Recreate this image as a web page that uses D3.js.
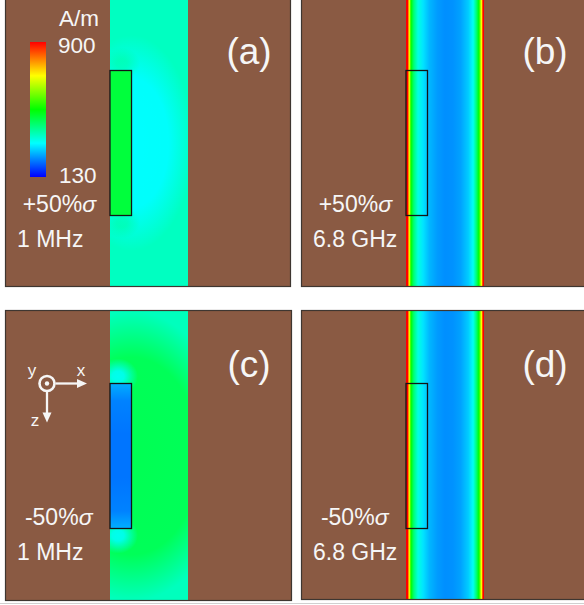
<!DOCTYPE html>
<html>
<head>
<meta charset="utf-8">
<script src="https://cdn.jsdelivr.net/npm/d3@7"></script>
<style>
  body { margin: 0; background: #fff; }
  text { font-family: "Liberation Sans", Arial, sans-serif; fill: #f6f6f6; }
</style>
</head>
<body>
<svg id="chart" width="584" height="605"></svg>
<script>
// colour bar range, A/m
var barMin = 130, barMax = 900;
var jetColors = ["#0000ff", "#00ffff", "#00ff00", "#ffff00", "#ff0000"];

// panel texts
var panelIds = ["a", "b", "c", "d"];
var sigmaLabels = ["+50%", "+50%", "-50%", "-50%"];
var freqLabels = ["1 MHz", "6.8 GHz", "1 MHz", "6.8 GHz"];

// 6.8 GHz: |H| across the strip (fraction of strip width -> A/m), b and d look the same
var ghzPos = [0, 0.02, 0.042, 0.064, 0.1, 0.154, 0.22, 0.3, 0.4, 0.5, 0.6, 0.7, 0.8, 0.86, 0.9, 0.935, 0.968, 0.987, 1];
var ghzH   = [900, 900, 707, 515, 425, 345, 302, 268, 248, 238, 240, 252, 285, 330, 420, 515, 707, 900, 900];

// 1 MHz: strip, inclusion, beside inclusion, inclusion corners (A/m)
var mhzPlus  = [369, 470, 322, 410];
var mhzMinus = [372, 221, 452, 322];

// 1 MHz -50%: |H| along the inclusion (fraction of its length -> A/m)
var incPos = [0, 0.12, 0.35, 0.65, 0.88, 1];
var incMinusH = [262, 228, 218, 218, 228, 262];

var svg = d3.select("#chart");
var defs = svg.append("defs");

var color = d3.scaleLinear()
  .domain(jetColors.map(function(c, i) { return barMin + i * (barMax - barMin) / (jetColors.length - 1); }))
  .range(jetColors)
  .clamp(true);

var cells = [
  {x: 5, y: -3, w: 286, h: 290},
  {x: 301, y: -3, w: 290, h: 290},
  {x: 5, y: 310, w: 287, h: 291},
  {x: 301, y: 310, w: 290, h: 290}
];
var stripX = 105, stripW = 78, incY = 73.5, incW = 21.5, incH = 145;

function gradient(id, vertical, pos, vals) {
  var g = defs.append("linearGradient").attr("id", id)
    .attr("x1", 0).attr("y1", 0).attr("x2", vertical ? 0 : 1).attr("y2", vertical ? 1 : 0);
  g.selectAll("stop").data(pos).enter().append("stop")
    .attr("offset", function(d) { return d; })
    .attr("stop-color", function(d, i) { return color(vals[i]); });
  return "url(#" + id + ")";
}

function glow(id, val, flat, peak) {
  var g = defs.append("radialGradient").attr("id", id);
  g.append("stop").attr("offset", 0).attr("stop-color", color(val)).attr("stop-opacity", peak);
  g.append("stop").attr("offset", flat).attr("stop-color", color(val)).attr("stop-opacity", peak * 0.95);
  g.append("stop").attr("offset", 1).attr("stop-color", color(val)).attr("stop-opacity", 0);
  return "url(#" + id + ")";
}

panelIds.forEach(function(id, i) {
  var c = cells[i];
  var ghz = i % 2 == 1;
  var g = svg.append("g").attr("transform", "translate(" + c.x + "," + c.y + ")");

  defs.append("clipPath").attr("id", "clip-" + id)
    .append("rect").attr("width", c.w).attr("height", c.h);
  defs.append("clipPath").attr("id", "strip-" + id)
    .append("rect").attr("x", stripX).attr("width", stripW).attr("height", c.h);

  var body = g.append("g").attr("clip-path", "url(#clip-" + id + ")");
  body.append("rect").attr("width", c.w).attr("height", c.h).attr("fill", "#8a5a43");

  var xs = d3.scaleLinear().domain([0, 1]).range([stripX, stripX + stripW]);
  var ys = d3.scaleLinear().domain([0, 1]).range([incY, incY + incH]);

  if (ghz) {
    body.append("rect").attr("x", xs(0)).attr("width", xs(1) - xs(0)).attr("height", c.h)
      .attr("fill", gradient("ghz-" + id, false, ghzPos, ghzH));
  } else {
    var v = i == 0 ? mhzPlus : mhzMinus;
    body.append("rect").attr("x", xs(0)).attr("width", xs(1) - xs(0)).attr("height", c.h)
      .attr("fill", color(v[0]));
    var s = body.append("g").attr("clip-path", "url(#strip-" + id + ")");
    // field beside the inclusion
    s.append("ellipse")
      .attr("cx", xs(0) + incW).attr("cy", ys(0.5))
      .attr("rx", i == 0 ? 62 : 100).attr("ry", i == 0 ? 108 : 145)
      .attr("fill", glow("near-" + id, v[2], i == 0 ? 0.6 : 0.68, 1));
    // corners of the inclusion
    [0, 1].forEach(function(t) {
      s.append("ellipse")
        .attr("cx", xs(0) + (i == 0 ? 12 : 8)).attr("cy", ys(t) + (t ? 7 : -7))
        .attr("rx", i == 0 ? 18 : 20).attr("ry", i == 0 ? 16 : 18)
        .attr("fill", glow("corner-" + id + t, v[3], 0.3, i == 0 ? 0.45 : 0.9));
    });
  }

  // inclusion
  var incFill;
  if (i == 0) incFill = color(mhzPlus[1]);
  else if (i == 2) incFill = gradient("inc-" + id, true, incPos, incMinusH);
  else incFill = "none";
  g.append("rect")
    .attr("x", xs(0)).attr("y", ys(0)).attr("width", incW).attr("height", ys(1) - ys(0))
    .attr("fill", incFill).attr("stroke", "#141414").attr("stroke-width", 1.3);

  // frame
  g.append("rect").attr("x", 0.5).attr("y", 0.5).attr("width", c.w - 1).attr("height", c.h - 1)
    .attr("fill", "none").attr("stroke", "#3e3631").attr("stroke-width", 1.2);

  g.append("text").attr("x", 244).attr("y", 67).attr("text-anchor", "middle")
    .style("font-size", "37px").text("(" + id + ")");

  var st = g.append("text").attr("x", i < 2 ? 91 : 87.5).attr("y", 215).attr("text-anchor", "end")
    .style("font-size", "23px");
  st.append("tspan").text(sigmaLabels[i]);
  st.append("tspan").style("font-style", "italic").text("σ");

  g.append("text").attr("x", 12).attr("y", 249.5).style("font-size", "23px").text(freqLabels[i]);

  if (i == 0) {
    // colour bar
    var yBar = d3.scaleLinear().domain([barMin, barMax]).range([180, 45]);
    var cb = defs.append("linearGradient").attr("id", "bar")
      .attr("x1", 0).attr("y1", 1).attr("x2", 0).attr("y2", 0);
    cb.selectAll("stop").data(color.domain()).enter().append("stop")
      .attr("offset", function(d) { return (d - barMin) / (barMax - barMin); })
      .attr("stop-color", function(d) { return color(d); });
    g.append("rect").attr("x", 25).attr("y", yBar(barMax)).attr("width", 16)
      .attr("height", yBar(barMin) - yBar(barMax)).attr("fill", "url(#bar)");
    g.append("text").attr("x", 94).attr("y", 29).attr("text-anchor", "end")
      .style("font-size", "22.5px").text("A/m");
    g.append("text").attr("x", 53).attr("y", yBar(barMax) + 11).style("font-size", "22.5px").text(barMax);
    g.append("text").attr("x", 54).attr("y", yBar(barMin) + 6).style("font-size", "22.5px").text(barMin);
  }

  if (i == 2) {
    // axes icon
    var ax = g.append("g").attr("transform", "translate(42,73.5)");
    ax.append("circle").attr("r", 7.5).attr("fill", "none").attr("stroke", "#f6f6f6").attr("stroke-width", 2.6);
    ax.append("circle").attr("r", 2.2).attr("fill", "#f6f6f6");
    ax.append("line").attr("x1", 8.5).attr("x2", 32).attr("stroke", "#f6f6f6").attr("stroke-width", 2.3);
    ax.append("path").attr("d", "M30,-4.5L40,0L30,4.5Z").attr("fill", "#f6f6f6");
    ax.append("line").attr("y1", 8.5).attr("y2", 30).attr("stroke", "#f6f6f6").attr("stroke-width", 2.3);
    ax.append("path").attr("d", "M-4.5,29L0,39L4.5,29Z").attr("fill", "#f6f6f6");
    ax.append("text").attr("x", -15).attr("y", -8).attr("text-anchor", "middle").style("font-size", "17px").text("y");
    ax.append("text").attr("x", 34).attr("y", -7.5).attr("text-anchor", "middle").style("font-size", "17px").text("x");
    ax.append("text").attr("x", -12).attr("y", 42).attr("text-anchor", "middle").style("font-size", "17px").text("z");
  }
});

svg.append("line").attr("x1", 0).attr("x2", 584).attr("y1", 603.5).attr("y2", 603.5)
  .attr("stroke", "#d0d0d0").attr("stroke-width", 1);
</script>
</body>
</html>
